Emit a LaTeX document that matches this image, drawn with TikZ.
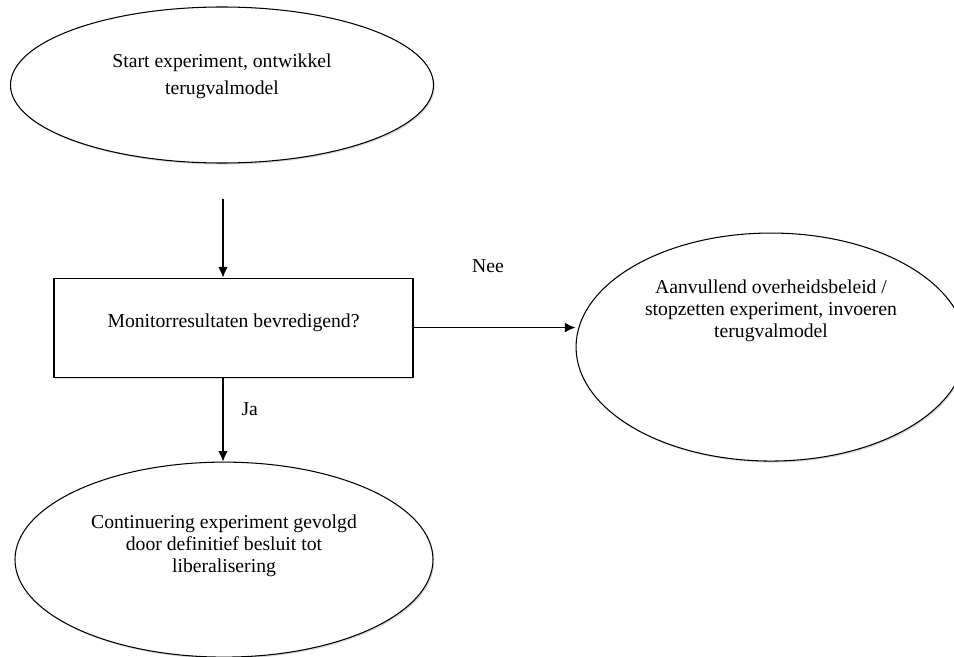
\documentclass[tikz,border=0pt]{standalone}
\usepackage{fontspec}
\setmainfont{Liberation Serif}
\usetikzlibrary{shapes.geometric,positioning,arrows.meta,shadows}

\begin{document}
\begin{tikzpicture}[->,>={Latex[length=6pt,width=5.5pt]},line width=0.8pt,
        font=\fontsize{11.2}{12.6}\selectfont,
        oval node/.style={ellipse,draw,fill=white,line width=0.6pt,inner sep=0pt,
            drop shadow={shadow xshift=0.7pt,shadow yshift=-0.9pt,opacity=0.3}},
        box node/.style={rectangle,draw,fill=white,line width=0.6pt,inner sep=0pt,
            drop shadow={shadow xshift=0.7pt,shadow yshift=-0.9pt,opacity=0.3}},
        tekst/.style={align=center,font=\fontsize{11.2}{12.6}\selectfont}]
                \useasboundingbox (0,0) rectangle (19.08,-13.14);

                \node[oval node,minimum width=8.46cm,minimum height=3.12cm,
                    label={[tekst,yshift=0.17cm]center:Start experiment, ontwikkel\\[2.6pt] terugvalmodel}]
                    (start) at (4.44,-1.70) {};
                \coordinate[below=0.7cm of start.south,xshift=0.02cm] (pijlstart);
                \node[box node,minimum width=7.18cm,minimum height=1.98cm,
                    label={[tekst,yshift=0.09cm]center:Monitorresultaten bevredigend?}]
                    (monitor) [below=2.28cm of start,xshift=0.23cm] {};
                \node[oval node,minimum width=8.36cm,minimum height=3.9cm,
                    label={[tekst,yshift=0.28cm]center:Continuering experiment gevolgd\\ door definitief besluit tot\\ liberalisering}]
                    (uitkomst) [below=1.68cm of monitor,xshift=-0.19cm] {};
                \node[oval node,minimum width=7.8cm,minimum height=4.56cm,
                    label={[tekst,yshift=0.72cm]center:Aanvullend overheidsbeleid /\\ stopzetten experiment, invoeren\\ terugvalmodel}]
                    (beleid) [right=3.24cm of monitor,yshift=-0.39cm] {};

                \draw (pijlstart) -- (pijlstart |- monitor.north);
                \draw (pijlstart |- monitor.south) -- node[-,pos=0.38,right=0.24cm] {Ja} (pijlstart |- uitkomst.north);
                \draw (monitor.east) -- node[-,pos=0.46,above=0.96cm] {Nee} (monitor.east -| beleid.west);
            \end{tikzpicture}
\end{document}
